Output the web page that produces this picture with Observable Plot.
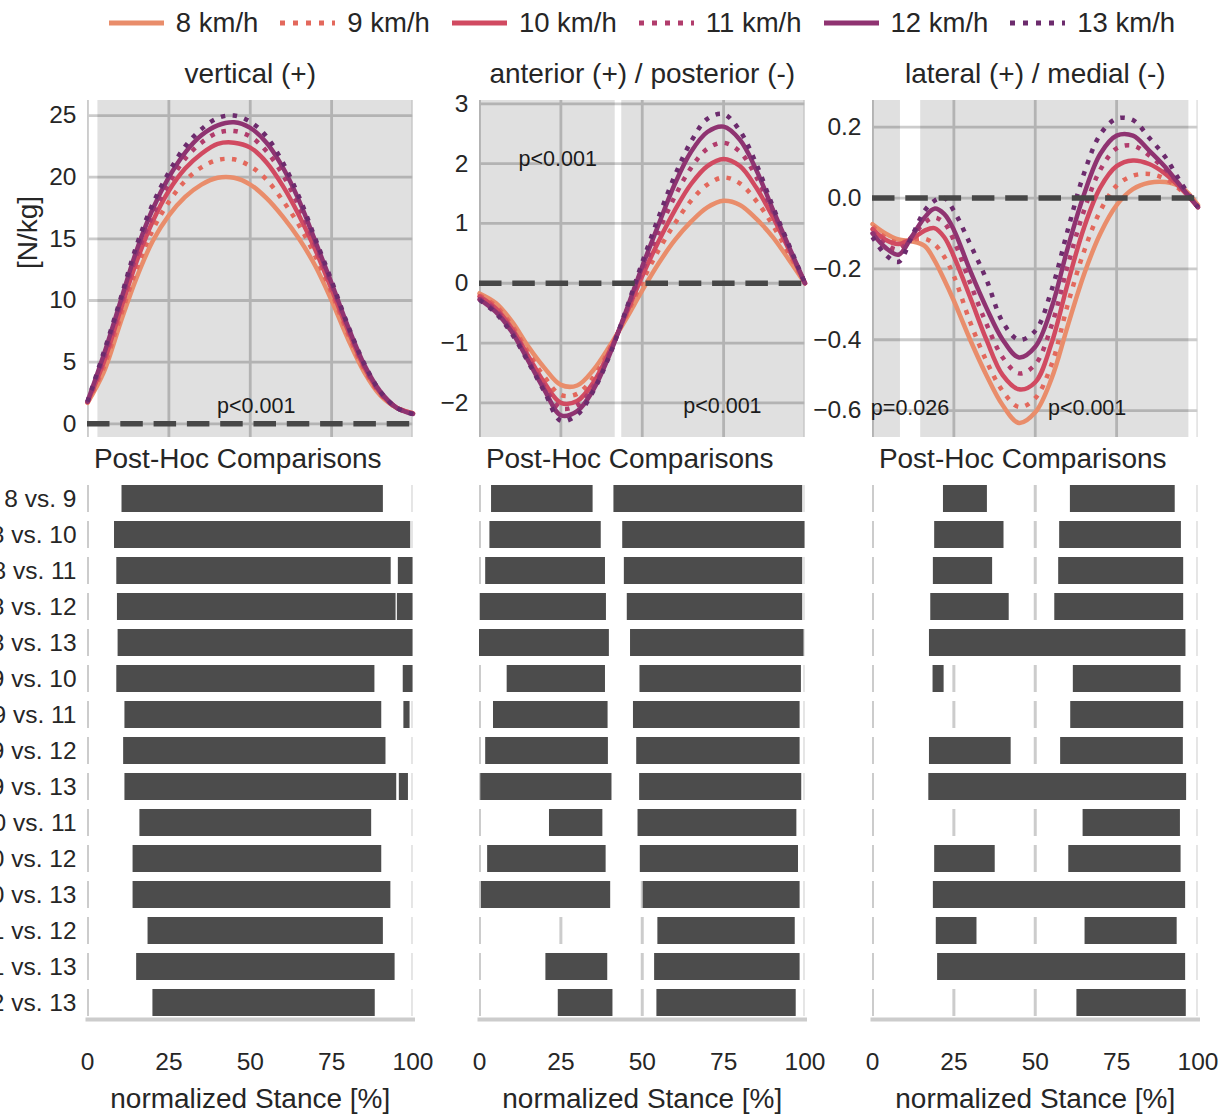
<!DOCTYPE html>
<html><head><meta charset="utf-8">
<script src="https://cdn.jsdelivr.net/npm/d3@7"></script>
<script src="https://cdn.jsdelivr.net/npm/@observablehq/plot@0.6"></script>
<style>
body{margin:0;background:#fff;}
#fig{position:relative;width:1229px;height:1117px;overflow:hidden;font-family:"Liberation Sans",Arial,sans-serif;color:#262626;background:#fff;}
#legend{position:absolute;left:87px;width:1110px;top:5px;height:36px;display:flex;justify-content:center;align-items:center;gap:22px;font-size:27.5px;}
.item{display:flex;align-items:center;gap:12px;}
.item svg{display:block;}
</style></head><body><div id="fig"><div id="legend"></div></div>
<script>
// ---------- data ----------
const speeds = ["8 km/h", "9 km/h", "10 km/h", "11 km/h", "12 km/h", "13 km/h"];
const stance5 = [0,5,10,15,20,25,30,35,40,45,50,55,60,65,70,75,80,85,90,95,100];
const stanceML = [0,4,8,12,16,19,22,25,30,35,40,45,50,55,60,65,70,75,80,85,90,95,100];

// vertical (+)
const vert8  = [1.7,4.2,8.1,11.8,14.8,16.9,18.4,19.4,19.95,19.95,19.4,18.3,16.8,15.0,12.8,10.0,6.9,4.2,2.3,1.3,0.85];
const vert9  = [1.7,4.6,8.6,12.5,15.7,18.0,19.7,20.8,21.4,21.45,20.9,19.8,18.1,16.1,13.6,10.6,7.3,4.4,2.4,1.3,0.85];
const vert10 = [1.75,5.0,9.1,13.1,16.4,18.9,20.7,21.9,22.7,22.8,22.4,21.2,19.3,16.9,14.1,10.9,7.6,4.6,2.5,1.3,0.85];
const vert11 = [1.75,5.3,9.5,13.6,16.9,19.5,21.5,22.8,23.6,23.75,23.3,22.1,20.2,17.6,14.5,11.2,7.8,4.7,2.5,1.3,0.8];
const vert12 = [1.8,5.6,9.8,14.0,17.4,20.0,22.0,23.4,24.2,24.45,24.0,22.8,20.8,18.1,14.8,11.4,7.9,4.8,2.6,1.3,0.8];
const vert13 = [1.8,5.8,10.0,14.4,17.8,20.4,22.5,23.9,24.8,25.0,24.5,23.3,21.2,18.4,15.0,11.6,8.0,4.9,2.6,1.3,0.8];

// anterior (+) / posterior (-)
const ap8  = [-0.17,-0.33,-0.64,-1.06,-1.42,-1.70,-1.71,-1.45,-1.05,-0.6,-0.12,0.33,0.72,1.03,1.27,1.38,1.31,1.08,0.78,0.4,0.0];
const ap9  = [-0.2,-0.38,-0.71,-1.16,-1.57,-1.87,-1.85,-1.57,-1.1,-0.55,0.03,0.55,1.0,1.38,1.65,1.77,1.67,1.38,0.98,0.5,0.0];
const ap10 = [-0.22,-0.42,-0.76,-1.22,-1.67,-2.0,-1.97,-1.66,-1.13,-0.52,0.12,0.7,1.22,1.66,1.96,2.08,1.96,1.6,1.12,0.57,0.0];
const ap11 = [-0.25,-0.45,-0.79,-1.26,-1.74,-2.09,-2.04,-1.72,-1.16,-0.49,0.2,0.86,1.45,1.93,2.25,2.35,2.2,1.78,1.2,0.6,0.0];
const ap12 = [-0.27,-0.48,-0.82,-1.3,-1.79,-2.21,-2.14,-1.78,-1.19,-0.47,0.28,0.98,1.66,2.2,2.53,2.62,2.4,1.9,1.25,0.62,0.0];
const ap13 = [-0.28,-0.5,-0.85,-1.32,-1.82,-2.3,-2.2,-1.8,-1.2,-0.45,0.35,1.1,1.8,2.37,2.75,2.83,2.55,2.0,1.3,0.65,0.0];

// lateral (+) / medial (-)
const ml8  = [-0.074,-0.1,-0.117,-0.122,-0.135,-0.175,-0.23,-0.29,-0.4,-0.5,-0.585,-0.635,-0.605,-0.51,-0.36,-0.215,-0.1,-0.02,0.025,0.043,0.045,0.03,-0.02];
const ml9  = [-0.08,-0.112,-0.126,-0.118,-0.115,-0.13,-0.165,-0.22,-0.35,-0.46,-0.545,-0.59,-0.565,-0.47,-0.3,-0.15,-0.036,0.035,0.063,0.068,0.054,0.02,-0.025];
const ml10 = [-0.088,-0.118,-0.13,-0.116,-0.092,-0.085,-0.11,-0.165,-0.28,-0.4,-0.5,-0.54,-0.52,-0.41,-0.24,-0.083,0.03,0.09,0.106,0.096,0.068,0.025,-0.026];
const ml11 = [-0.095,-0.13,-0.145,-0.11,-0.07,-0.055,-0.07,-0.12,-0.24,-0.355,-0.45,-0.495,-0.47,-0.36,-0.19,-0.035,0.08,0.14,0.148,0.12,0.08,0.03,-0.026];
const ml12 = [-0.1,-0.14,-0.16,-0.11,-0.055,-0.03,-0.045,-0.09,-0.205,-0.31,-0.4,-0.45,-0.42,-0.31,-0.14,0.011,0.125,0.176,0.176,0.134,0.087,0.03,-0.026];
const ml13 = [-0.11,-0.16,-0.18,-0.11,-0.036,-0.008,0.0,-0.036,-0.13,-0.23,-0.35,-0.40,-0.375,-0.26,-0.09,0.07,0.18,0.224,0.22,0.17,0.115,0.04,-0.026];

// significant SPM clusters (stance %)
const vertClusters = [[3.2,100]];
const apClusters = [[0,41.7],[43.7,100]];
const mlClusters = [[0,8.6],[14.8,97.2]];

// post-hoc comparisons
const comparisons = ["8 vs. 9","8 vs. 10","8 vs. 11","8 vs. 12","8 vs. 13","9 vs. 10","9 vs. 11","9 vs. 12","9 vs. 13","10 vs. 11","10 vs. 12","10 vs. 13","11 vs. 12","11 vs. 13","12 vs. 13"];
const vertIntervals = [
 [[10.6,90.9]],[[8.3,99.3]],[[9.0,93.3],[95.5,100]],[[9.2,94.8],[95.2,100]],[[9.4,100]],
 [[9.0,88.3],[97.0,100]],[[11.5,90.4],[97.2,99.1]],[[11.1,91.7]],[[11.5,95.0],[95.8,98.6]],
 [[16.1,87.3]],[[14.0,90.4]],[[14.0,93.2]],[[18.6,90.9]],[[15.1,94.5]],[[20.1,88.4]]
];
const apIntervals = [
 [[3.7,34.9],[41.3,99.3]],[[3.2,37.4],[44.0,100]],[[1.9,38.7],[44.5,99.3]],[[0.3,39.0],[45.4,99.3]],[[0,39.9],[46.4,99.7]],
 [[8.5,38.7],[49.3,98.9]],[[4.3,39.5],[47.3,98.5]],[[1.9,39.6],[48.3,98.5]],[[0.4,40.7],[49.2,99.0]],
 [[21.5,37.9],[48.7,97.5]],[[2.5,38.9],[49.4,98.0]],[[0.6,40.3],[50.3,98.5]],[[54.8,97.0]],[[20.4,39.4],[53.8,98.5]],[[24.2,41.0],[54.5,97.3]]
];
const mlIntervals = [
 [[21.8,35.3],[60.8,93.0]],[[19.1,40.4],[57.5,94.9]],[[18.7,36.9],[57.2,95.6]],[[17.9,42.0],[56.0,95.6]],[[17.5,96.3]],
 [[18.6,22.0],[61.7,94.8]],[[60.9,95.6]],[[17.5,42.6],[57.8,95.5]],[[17.3,96.5]],
 [[64.7,94.6]],[[19.1,37.7],[60.3,94.8]],[[18.7,96.2]],[[19.6,32.1],[65.3,93.6]],[[20.0,96.2]],[[62.8,96.4]]
];
const xTicks = [0,25,50,75,100];

// ---------- styles ----------
const palette = ["#e98d6b","#e3685c","#d14a61","#b13c6c","#8f3371","#6c2b6d"];
const dotted = [false,true,false,true,false,true];
const FONT = '"Liberation Sans", Arial, sans-serif';
const panelLefts = [87, 479.4, 871.6];
const PW = 325.5, ML = 90, MR = 20.5;
const fig = document.getElementById("fig");

function place(svg, left, top) {
  svg.style.position = "absolute";
  svg.style.left = left + "px";
  svg.style.top = top + "px";
  fig.appendChild(svg);
}
const baseStyle = {background: "transparent", overflow: "visible", fontFamily: FONT, fontSize: "24.5px", color: "#262626"};

function topPanel(i, xs, series, domain, yTicks, fmt, clusters, title, pLabels, ylabel) {
  const T = 100, B = 437, mT = 60, mB = 10;
  const marks = [
    Plot.gridX(xTicks, {stroke: "#cccccc", strokeOpacity: 1, strokeWidth: 2.8, clip: true}),
    Plot.gridY(yTicks, {stroke: "#cccccc", strokeOpacity: 1, strokeWidth: 2.8, clip: true}),
    Plot.barX(clusters, {x1: d => d[0], x2: d => d[1], fill: "#000", fillOpacity: 0.12}),
  ];
  series.forEach((arr, k) => {
    marks.push(Plot.line(xs.map((x, j) => ({x, y: arr[j]})), {
      x: "x", y: "y", stroke: palette[k], strokeWidth: 4.5,
      strokeDasharray: dotted[k] ? "4.5,7.4" : undefined,
      strokeLinecap: dotted[k] ? "butt" : "round",
      curve: "catmull-rom"
    }));
  });
  marks.push(Plot.ruleY([0], {stroke: "#474747", strokeWidth: 5.5, strokeDasharray: "22.5,10.8"}));
  marks.push(Plot.axisY(yTicks, {tickSize: 0, tickPadding: 11, tickFormat: fmt, fontSize: 24.5, label: null}));
  marks.push(Plot.text([title], {frameAnchor: "top", lineAnchor: "middle", dy: -26.6, fontSize: 28, fill: "#262626"}));
  marks.push(Plot.text(pLabels, {x: "x", y: "y", text: "t", textAnchor: "start", lineAnchor: "middle", fontSize: 21.5, fill: "#1a1a1a"}));
  if (ylabel) marks.push(Plot.text([ylabel], {frameAnchor: "left", dx: -59, rotate: -90, fontSize: 28, fill: "#262626"}));
  const svg = Plot.plot({
    width: ML + PW + MR, height: mT + (B - T) + mB,
    marginLeft: ML, marginRight: MR, marginTop: mT, marginBottom: mB,
    x: {domain: [0, 100], axis: null, label: null},
    y: {domain, axis: null, label: null},
    style: baseStyle,
    marks
  });
  place(svg, panelLefts[i] - ML, T - mT);
}

function bottomPanel(i, intervals, showY) {
  const T = 482.4, B = 1019.5, mT = 40, mB = 100;
  const bars = [];
  intervals.forEach((row, r) => row.forEach(([a, b]) => bars.push({cmp: comparisons[r], a, b})));
  const grid = [];
  comparisons.forEach(c => xTicks.forEach(x => grid.push({cmp: c, x})));
  const marks = [
    Plot.tickX(grid, {x: "x", y: "cmp", stroke: "#cccccc", strokeWidth: 3, clip: true}),
    Plot.barX(bars, {x1: "a", x2: "b", y: "cmp", fill: "#4c4c4c"}),
    Plot.frame({anchor: "bottom", stroke: "#cccccc", strokeWidth: 4, strokeLinecap: "square"}),
    Plot.axisX(xTicks, {tickSize: 0, tickPadding: 33, fontSize: 24.5, label: null}),
    Plot.text(["normalized Stance [%]"], {frameAnchor: "bottom", lineAnchor: "middle", dy: 79.9, fontSize: 28, fill: "#262626"}),
    Plot.text(["Post-Hoc Comparisons"], {frameAnchor: "top", lineAnchor: "middle", dx: -12.5, dy: -23.4, fontSize: 28, fill: "#262626"})
  ];
  if (showY) marks.push(Plot.axisY({tickSize: 0, tickPadding: 11, fontSize: 24.5, label: null}));
  const svg = Plot.plot({
    width: ML + PW + MR, height: mT + (B - T) + mB,
    marginLeft: ML, marginRight: MR, marginTop: mT, marginBottom: mB,
    x: {domain: [0, 100], axis: null, label: null},
    y: {domain: comparisons, paddingInner: 0.262, paddingOuter: 0.054, axis: null, label: null},
    style: baseStyle,
    marks
  });
  place(svg, panelLefts[i] - ML, T - mT);
}

topPanel(0, stance5, [vert8, vert9, vert10, vert11, vert12, vert13], [-1.11, 26.22], [0,5,10,15,20,25], d3.format("d"),
  vertClusters, "vertical (+)", [{x: 39.8, y: 1.4, t: "p<0.001"}], "[N/kg]");
topPanel(1, stance5, [ap8, ap9, ap10, ap11, ap12, ap13], [-2.58, 3.057], [-2,-1,0,1,2,3], d3.format("d"),
  apClusters, "anterior (+) / posterior (-)", [{x: 12.0, y: 2.08, t: "p<0.001"}, {x: 62.6, y: -2.05, t: "p<0.001"}]);
topPanel(2, stanceML, [ml8, ml9, ml10, ml11, ml12, ml13], [-0.676, 0.2753], [-0.6,-0.4,-0.2,0,0.2], d3.format(".1f"),
  mlClusters, "lateral (+) / medial (-)", [{x: -0.5, y: -0.593, t: "p=0.026"}, {x: 53.9, y: -0.593, t: "p<0.001"}]);

bottomPanel(0, vertIntervals, true);
bottomPanel(1, apIntervals, false);
bottomPanel(2, mlIntervals, false);

// legend
const legend = document.getElementById("legend");
speeds.forEach((s, k) => {
  const item = document.createElement("div");
  item.className = "item";
  const ns = "http://www.w3.org/2000/svg";
  const sv = document.createElementNS(ns, "svg");
  sv.setAttribute("width", 55); sv.setAttribute("height", 12);
  const ln = document.createElementNS(ns, "line");
  ln.setAttribute("x1", 0); ln.setAttribute("x2", 55); ln.setAttribute("y1", 6); ln.setAttribute("y2", 6);
  ln.setAttribute("stroke", palette[k]); ln.setAttribute("stroke-width", 5);
  if (dotted[k]) { ln.setAttribute("stroke-dasharray", "5,8"); }
  else ln.setAttribute("stroke-linecap", "round");
  sv.appendChild(ln);
  const tx = document.createElement("span");
  tx.textContent = s;
  item.appendChild(sv); item.appendChild(tx);
  legend.appendChild(item);
});
</script></body></html>
